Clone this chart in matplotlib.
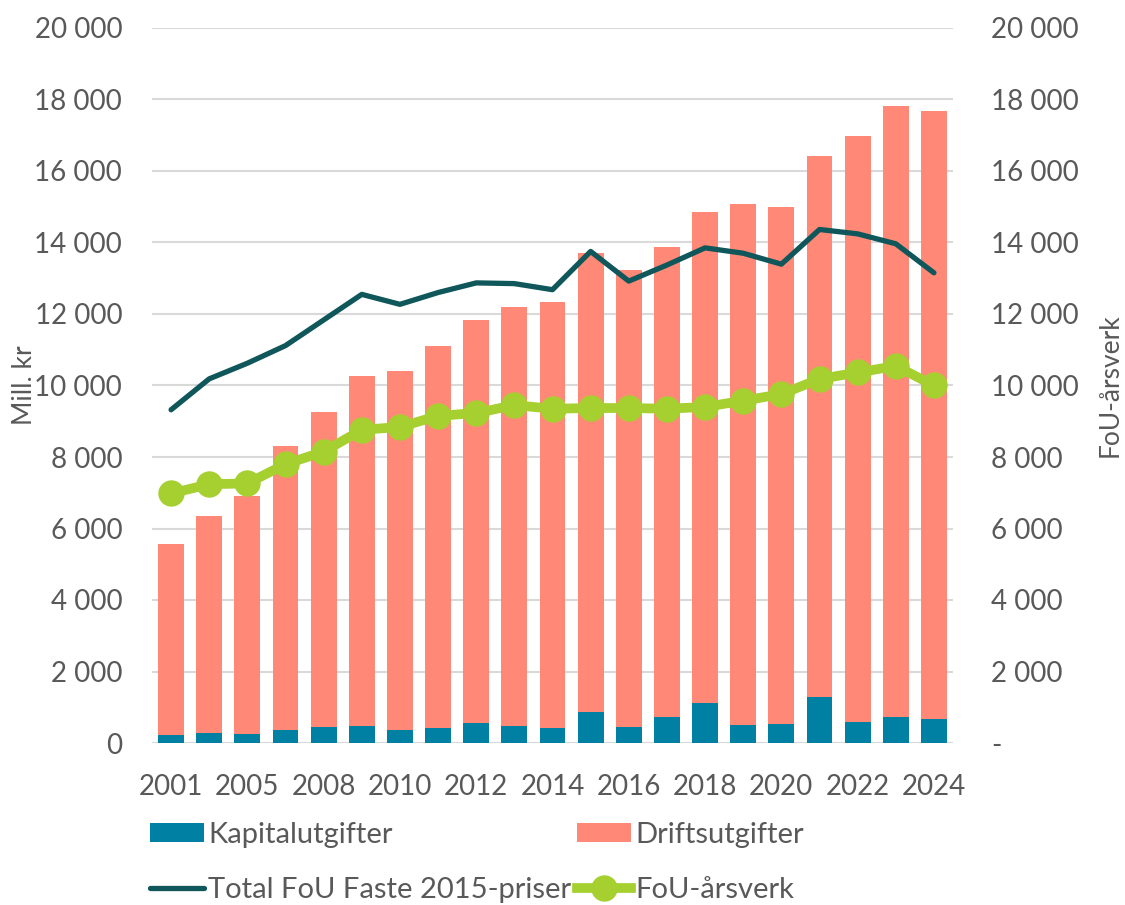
import matplotlib
matplotlib.use("Agg")
import matplotlib.pyplot as plt
import numpy as np
from matplotlib.ticker import FuncFormatter

years = ['2001', '2003', '2005', '2007', '2008', '2009', '2010', '2011', '2012', '2013',
         '2014', '2015', '2016', '2017', '2018', '2019', '2020', '2021', '2022', '2023', '2024']
kapitalutgifter = [224, 270, 243, 354, 438, 466, 354, 430, 570, 480, 420, 880, 450, 720,
                   1130, 510, 520, 1273, 582, 739, 679]
driftsutgifter = [5346, 6080, 6657, 7956, 8827, 9794, 10055, 10677, 11260, 11720, 11920,
                  12840, 12770, 13160, 13710, 14580, 14486, 15151, 16400, 17091, 17006]
total_fou_faste = [9321, 10186, 10623, 11116, 11833, 12549, 12270, 12600, 12870, 12850, 12680,
                   13750, 12920, 13370, 13850, 13700, 13394, 14364, 14242, 13964, 13152]
fou_arsverk = [6980, 7240, 7260, 7800, 8150, 8760, 8840, 9150, 9230, 9450, 9350, 9370, 9370,
               9350, 9400, 9576, 9758, 10182, 10364, 10545, 10000]

FONT = ['Lato', 'DejaVu Sans']
TXT = '#595959'
C_KAP = '#0080A3'
C_DRIFT = '#FF8876'
C_TOT = '#0F575A'
C_ARS = '#A5D030'
GRID = '#D9D9D9'

plt.rcParams['font.family'] = FONT

fig = plt.figure(figsize=(11.25, 9.05), dpi=100)
ax = fig.add_axes([152 / 1125, 1 - 743 / 905, (953 - 152) / 1125, (743 - 28) / 905])
ax2 = ax.twinx()

x = np.arange(len(years))
w = 0.68
b1 = ax.bar(x, kapitalutgifter, width=w, color=C_KAP, zorder=2, label='Kapitalutgifter')
b2 = ax.bar(x, driftsutgifter, width=w, bottom=kapitalutgifter, color=C_DRIFT, zorder=2,
            label='Driftsutgifter')
l1, = ax.plot(x, total_fou_faste, color=C_TOT, lw=3.8, zorder=3, solid_capstyle='round',
              solid_joinstyle='round', label='Total FoU Faste 2015-priser')
l2, = ax2.plot(x, fou_arsverk, color=C_ARS, lw=7, marker='o', ms=18, zorder=3,
               solid_joinstyle='round', label='FoU-årsverk')

for a in (ax, ax2):
    a.set_ylim(0, 20000)
    a.set_yticks(np.arange(0, 20001, 2000))
    a.set_xlim(-0.5, 20.5)
    for s in a.spines.values():
        s.set_visible(False)
    a.tick_params(axis='both', length=0, labelsize=20, labelcolor=TXT)

ax.yaxis.grid(True, color=GRID, lw=1.5, zorder=0)
ax.set_axisbelow(True)
ax.axhline(0, color=GRID, lw=2, zorder=1)

ax.yaxis.set_major_formatter(FuncFormatter(lambda v, p: f"{int(v):,}".replace(',', ' ')))
ax2.yaxis.set_major_formatter(FuncFormatter(
    lambda v, p: '-' if v == 0 else f"{int(v):,}".replace(',', ' ')))
ax.tick_params(axis='y', pad=21.5)
ax2.tick_params(axis='y', pad=27.5)

ax.set_xticks(x[::2])
ax.set_xticklabels(years[::2])
ax.tick_params(axis='x', pad=22, labelsize=20)

ax.set_ylabel('Mill. kr', fontsize=19, color=TXT, labelpad=0)
ax.yaxis.set_label_coords(-0.1436, 0.5)
ax2.set_ylabel('FoU-årsverk', fontsize=19, color=TXT, rotation=90, labelpad=0)
ax2.yaxis.set_label_coords(1.18, 0.5)

leg = fig.legend(handles=[b1, l1, b2, l2], loc='upper left',
                 bbox_to_anchor=(150 / 1125, 1 - 822 / 905), ncol=2, frameon=False,
                 fontsize=21, handlelength=1.85, handleheight=0.62, handletextpad=0.15,
                 columnspacing=0.2, labelspacing=1.0, borderpad=0, borderaxespad=0,
                 labelcolor=TXT)

fig.savefig('out.png', dpi=100)
